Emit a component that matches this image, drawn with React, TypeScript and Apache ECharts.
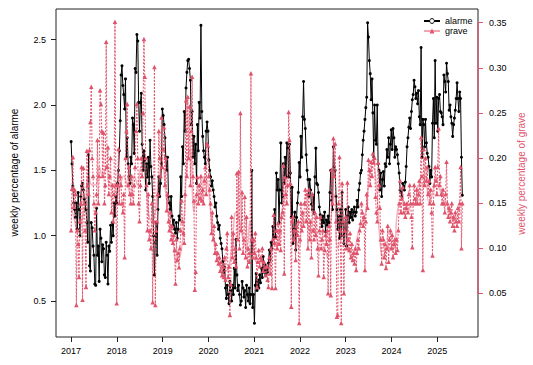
import React, { useEffect, useRef } from "react";
import * as echarts from "echarts";

const FONT = "'Liberation Sans', Arial, Helvetica, sans-serif";
const PINK = "#DF536B";
const LIGHT_PINK = "#F6B4C2";

const years = [2017, 2018, 2019, 2020, 2021, 2022, 2023, 2024, 2025];
const leftTicks = [0.5, 1.0, 1.5, 2.0, 2.5];
const rightTicks = [0.05, 0.1, 0.15, 0.2, 0.25, 0.3, 0.35];

// weekly percentage of alarme (left axis), one row per year starting Jan 2017
const alarme2017 = [1.72,1.55,1.38,1.25,1.20,1.14,1.25,1.05,1.33,1.20,1.00,1.30,1.38,1.40,1.35,1.28,1.25,1.20,1.10,0.95,1.62,0.77,0.73,1.10,1.06,0.92,0.85,0.63,0.62,1.21,0.85,0.92,0.65,1.05,0.98,0.80,0.93,0.90,0.70,0.68,0.95,0.85,0.63,0.92,0.88,1.08,0.95,1.10,1.00,1.25,1.15,1.30];
const alarme2018 = [1.25,1.40,1.50,1.65,1.88,2.23,2.30,2.15,2.08,1.97,2.20,1.60,1.75,1.55,1.45,1.40,1.60,1.55,1.90,1.85,1.63,2.28,2.25,2.54,2.49,2.02,1.80,2.02,2.09,1.70,1.50,1.65,1.58,1.35,1.55,1.45,1.60,1.40,1.73,1.53,1.45,1.30,1.00,0.70,0.95,1.10,0.85,1.20,1.45,1.30,1.40,1.55];
const alarme2019 = [1.97,1.92,1.85,1.75,1.60,1.50,1.60,1.30,1.25,1.20,1.30,1.15,1.08,1.12,1.05,1.02,1.10,0.98,1.05,1.15,1.12,1.45,1.30,1.68,1.55,1.95,1.80,2.13,2.25,2.34,2.35,2.28,2.19,1.85,1.95,1.60,1.76,1.55,1.70,1.40,1.85,1.65,2.02,1.90,2.61,1.95,1.76,1.65,1.60,1.55,1.80,1.87];
const alarme2020 = [1.80,1.58,1.50,1.45,1.38,1.42,1.35,1.30,1.22,1.25,1.15,1.10,1.05,1.08,0.98,0.94,0.90,0.80,0.72,0.76,0.60,0.52,0.62,0.55,0.48,0.65,0.58,0.50,0.62,0.55,0.75,0.60,0.97,0.70,0.58,0.62,0.55,0.47,0.50,0.65,0.60,0.53,0.58,0.45,0.62,0.55,0.50,0.60,0.48,0.55,1.50,0.45];
const alarme2021 = [0.55,0.33,0.62,0.71,0.58,0.66,0.60,0.70,0.64,0.75,0.68,0.84,0.72,0.78,0.70,0.74,0.72,0.79,0.89,0.82,0.95,0.90,1.07,0.99,1.20,0.99,1.48,1.35,1.43,1.10,1.35,1.71,1.25,1.30,1.55,1.40,1.60,1.45,1.71,1.67,1.45,1.70,1.48,1.14,1.37,0.94,1.05,1.18,0.89,1.14,1.25,1.33];
const alarme2022 = [1.56,1.45,1.76,1.60,1.91,2.18,1.89,1.82,1.62,1.50,1.43,1.30,1.43,1.35,1.24,1.20,1.31,1.17,1.45,1.67,1.40,1.39,1.33,1.22,1.16,1.13,1.07,1.15,1.10,1.18,1.03,1.12,1.08,1.15,1.10,1.33,1.50,1.27,1.20,1.68,1.53,1.50,1.30,1.20,1.05,1.15,0.98,1.20,1.00,1.33,1.10,0.94];
const alarme2023 = [1.05,1.20,0.92,1.15,1.22,1.10,1.18,1.14,1.20,1.12,1.18,1.22,1.15,1.18,1.27,1.22,1.35,1.40,1.48,1.50,1.62,1.73,1.80,1.89,1.98,2.06,2.63,2.52,2.34,2.24,2.04,2.20,1.94,1.60,2.00,1.73,1.70,2.00,1.55,1.50,1.35,1.48,1.30,1.43,1.49,1.38,1.55,1.53,1.66,1.60,1.75,1.55];
const alarme2024 = [1.70,1.81,1.66,1.82,1.75,1.60,1.68,1.66,1.62,1.55,1.48,1.35,1.33,1.30,1.40,1.38,1.35,1.41,1.53,1.68,1.75,1.83,1.90,1.82,1.95,2.04,2.08,2.19,2.14,2.05,2.09,2.01,2.11,1.91,1.85,2.44,1.60,1.89,1.85,1.68,1.89,1.71,1.63,1.60,1.53,1.40,1.50,1.45,1.86,2.05,1.75,2.34];
const alarme2025 = [1.86,2.06,1.80,2.05,2.08,1.95,1.94,1.91,1.85,2.23,2.18,2.10,2.32,2.24,2.18,1.96,2.00,1.91,1.86,1.76,1.85,1.90,1.96,2.05,2.17,2.05,1.95,2.10,2.05,1.60,1.31];

// weekly percentage of grave (right axis)
const grave2017 = [0.120,0.166,0.201,0.146,0.165,0.160,0.037,0.120,0.105,0.068,0.130,0.150,0.190,0.043,0.189,0.150,0.120,0.057,0.208,0.170,0.160,0.209,0.240,0.279,0.200,0.180,0.150,0.120,0.140,0.160,0.220,0.150,0.180,0.275,0.260,0.230,0.180,0.228,0.150,0.170,0.329,0.190,0.212,0.160,0.180,0.200,0.140,0.170,0.130,0.160,0.351,0.170];
const grave2018 = [0.039,0.170,0.210,0.150,0.180,0.170,0.150,0.140,0.160,0.090,0.200,0.230,0.260,0.170,0.190,0.160,0.150,0.180,0.160,0.150,0.170,0.190,0.230,0.260,0.200,0.150,0.130,0.170,0.200,0.180,0.250,0.332,0.290,0.200,0.170,0.120,0.160,0.110,0.120,0.100,0.150,0.040,0.130,0.301,0.037,0.120,0.130,0.160,0.230,0.200,0.180,0.245];
const grave2019 = [0.190,0.210,0.234,0.170,0.200,0.142,0.160,0.130,0.120,0.140,0.110,0.125,0.106,0.115,0.098,0.061,0.110,0.087,0.095,0.079,0.100,0.120,0.153,0.130,0.117,0.106,0.160,0.264,0.180,0.268,0.200,0.257,0.170,0.230,0.290,0.180,0.153,0.054,0.074,0.160,0.179,0.150,0.170,0.155,0.180,0.153,0.165,0.150,0.175,0.190,0.160,0.216];
const grave2020 = [0.214,0.180,0.165,0.150,0.117,0.140,0.110,0.125,0.095,0.105,0.087,0.095,0.083,0.090,0.075,0.085,0.070,0.080,0.068,0.090,0.065,0.100,0.117,0.068,0.080,0.026,0.060,0.135,0.090,0.117,0.085,0.100,0.080,0.183,0.110,0.185,0.100,0.250,0.120,0.162,0.095,0.110,0.157,0.090,0.135,0.080,0.100,0.085,0.095,0.294,0.110,0.090];
const grave2021 = [0.110,0.095,0.117,0.090,0.057,0.085,0.098,0.080,0.090,0.087,0.100,0.075,0.085,0.079,0.070,0.080,0.065,0.057,0.090,0.072,0.100,0.056,0.110,0.137,0.106,0.056,0.120,0.100,0.128,0.105,0.120,0.098,0.135,0.140,0.192,0.072,0.179,0.160,0.150,0.170,0.251,0.220,0.172,0.035,0.130,0.135,0.110,0.120,0.087,0.125,0.115,0.130];
const grave2022 = [0.017,0.110,0.150,0.120,0.140,0.125,0.150,0.165,0.130,0.160,0.100,0.165,0.110,0.130,0.090,0.160,0.120,0.110,0.140,0.115,0.135,0.100,0.070,0.120,0.135,0.100,0.110,0.120,0.068,0.098,0.115,0.105,0.120,0.050,0.125,0.110,0.048,0.187,0.150,0.222,0.180,0.216,0.130,0.024,0.026,0.150,0.201,0.120,0.017,0.172,0.130,0.050];
const grave2023 = [0.120,0.135,0.100,0.173,0.110,0.098,0.117,0.090,0.105,0.087,0.095,0.083,0.100,0.076,0.095,0.110,0.100,0.120,0.128,0.150,0.140,0.125,0.135,0.076,0.130,0.160,0.145,0.198,0.187,0.170,0.196,0.180,0.205,0.195,0.200,0.157,0.140,0.130,0.195,0.170,0.145,0.110,0.083,0.120,0.110,0.090,0.105,0.078,0.100,0.125,0.085,0.110];
const grave2024 = [0.120,0.100,0.115,0.090,0.105,0.110,0.095,0.110,0.098,0.120,0.150,0.175,0.140,0.155,0.168,0.140,0.150,0.135,0.145,0.150,0.140,0.160,0.170,0.150,0.135,0.101,0.150,0.170,0.155,0.150,0.165,0.150,0.160,0.175,0.150,0.223,0.180,0.076,0.210,0.170,0.200,0.175,0.190,0.160,0.175,0.150,0.165,0.140,0.092,0.150,0.170,0.190];
const grave2025 = [0.175,0.160,0.190,0.233,0.170,0.180,0.160,0.150,0.165,0.150,0.140,0.160,0.196,0.150,0.135,0.145,0.130,0.140,0.150,0.125,0.135,0.120,0.140,0.130,0.125,0.145,0.130,0.150,0.190,0.100,0.150];

// smoothed grave trend, one value every 4 weeks
const graveSmooth = [
  0.15,0.13,0.12,0.13,0.15,0.18,0.17,0.17,0.19,0.18,0.19,0.17,0.17,
  0.16,0.17,0.18,0.17,0.16,0.18,0.17,0.19,0.19,0.14,0.13,0.14,0.18,
  0.19,0.16,0.13,0.11,0.085,0.09,0.12,0.19,0.21,0.14,0.16,0.16,0.18,
  0.17,0.13,0.10,0.085,0.08,0.075,0.08,0.11,0.14,0.13,0.11,0.10,0.13,
  0.10,0.085,0.085,0.075,0.075,0.09,0.11,0.11,0.14,0.16,0.19,0.12,0.11,
  0.10,0.13,0.13,0.12,0.12,0.11,0.10,0.10,0.09,0.13,0.16,0.10,0.11,
  0.12,0.10,0.09,0.10,0.12,0.13,0.14,0.18,0.19,0.17,0.11,0.09,0.10,
  0.105,0.10,0.14,0.15,0.15,0.14,0.15,0.15,0.17,0.17,0.18,0.15,0.16,
  0.18,0.165,0.16,0.15,0.14,0.13,0.135,0.14,
];

const alarme = [...alarme2017, ...alarme2018, ...alarme2019, ...alarme2020, ...alarme2021, ...alarme2022, ...alarme2023, ...alarme2024, ...alarme2025];
const grave = [...grave2017, ...grave2018, ...grave2019, ...grave2020, ...grave2021, ...grave2022, ...grave2023, ...grave2024, ...grave2025];

const START_YEAR = 2017;
const WEEK = 7 / 365.25;
const X_MIN = 2016.67;
const X_MAX = 2025.89;
const YL_MIN = 0.2245;
const YL_MAX = 2.735;
const YR_MIN = 0.0016;
const YR_MAX = 0.3652;

export default function App() {
  const ref = useRef<HTMLDivElement>(null);

  useEffect(() => {
    if (!ref.current) return;
    const chart = echarts.init(ref.current, null, { renderer: "svg" });
    const option: any = {
      animation: false,
      backgroundColor: "#ffffff",
      textStyle: { fontFamily: FONT },
      grid: {
        left: 56,
        right: 55,
        top: 9,
        bottom: 28,
        show: true,
        borderColor: "#222",
        borderWidth: 1,
        backgroundColor: "transparent",
        containLabel: false,
        outerBoundsMode: "none",
      },
      legend: {
        orient: "vertical",
        left: 423,
        top: 16,
        itemWidth: 16,
        itemHeight: 6,
        itemGap: 0,
        padding: 0,
        selectedMode: false,
        textStyle: { fontSize: 9, lineHeight: 10, color: "#000", fontFamily: FONT },
        data: [
          { name: "alarme", itemStyle: { color: "#fff", borderColor: "#000", borderWidth: 1 } },
          { name: "grave", lineStyle: { type: "solid", color: "#F4A3B4" } },
        ],
      },
      xAxis: {
        type: "value",
        min: X_MIN,
        max: X_MAX,
        axisLine: { show: false },
        splitLine: { show: false },
        axisTick: { show: true, customValues: years, length: 5, lineStyle: { color: "#222" } },
        axisLabel: {
          customValues: years,
          margin: 9,
          fontSize: 9,
          color: "#000",
          fontFamily: FONT,
          formatter: (v: number) => String(Math.round(v)),
        },
      },
      yAxis: [
        {
          type: "value",
          min: YL_MIN,
          max: YL_MAX,
          position: "left",
          axisLine: { show: false },
          splitLine: { show: false },
          axisTick: { show: true, customValues: leftTicks, length: 5, lineStyle: { color: "#222" } },
          axisLabel: {
            customValues: leftTicks,
            margin: 10,
            fontSize: 9,
            color: "#000",
            fontFamily: FONT,
            formatter: (v: number) => v.toFixed(1),
          },
        },
        {
          type: "value",
          min: YR_MIN,
          max: YR_MAX,
          position: "right",
          alignTicks: false,
          axisLine: { show: false },
          splitLine: { show: false },
          axisTick: { show: true, customValues: rightTicks, length: 5, lineStyle: { color: PINK } },
          axisLabel: {
            customValues: rightTicks,
            margin: 11,
            fontSize: 9,
            color: "#000",
            fontFamily: FONT,
            formatter: (v: number) => v.toFixed(2),
          },
        },
      ],
      series: [
        {
          name: "smooth",
          type: "line",
          yAxisIndex: 1,
          data: graveSmooth.map((v, i) => [START_YEAR + i * 4 * WEEK, v]),
          smooth: 0.5,
          symbol: "none",
          silent: true,
          lineStyle: { color: LIGHT_PINK, width: 1.5 },
          z: 1,
        },
        {
          name: "alarme",
          type: "line",
          yAxisIndex: 0,
          data: alarme.map((v, i) => [START_YEAR + i * WEEK, v]),
          symbol: "circle",
          symbolSize: 3,
          showSymbol: true,
          showAllSymbol: true,
          silent: true,
          lineStyle: { color: "#000", width: 1 },
          itemStyle: { color: "#000" },
          z: 2,
        },
        {
          name: "grave",
          type: "line",
          yAxisIndex: 1,
          data: grave.map((v, i) => [START_YEAR + i * WEEK, v]),
          symbol: "triangle",
          symbolSize: 4.5,
          showSymbol: true,
          showAllSymbol: true,
          silent: true,
          lineStyle: { color: PINK, width: 1, type: [2, 1.5] },
          itemStyle: { color: PINK },
          z: 3,
        },
      ],
    };
    chart.setOption(option);

    const xr = chart.convertToPixel({ xAxisIndex: 0 }, X_MAX) as number;
    const y05 = chart.convertToPixel({ yAxisIndex: 1 }, rightTicks[0]) as number;
    const y35 = chart.convertToPixel({ yAxisIndex: 1 }, rightTicks[rightTicks.length - 1]) as number;

    chart.setOption({
      graphic: [
        {
          type: "line",
          id: "rightAxisLine",
          shape: { x1: xr, y1: y05, x2: xr, y2: y35 },
          style: { stroke: PINK, lineWidth: 1.2 },
          z: 100,
        },
        {
          type: "text",
          id: "leftTitle",
          x: 14,
          y: 172.5,
          rotation: Math.PI / 2,
          style: {
            text: "weekly percentage of alarme",
            fontSize: 10,
            fontFamily: FONT,
            fill: "#000",
            align: "center",
            verticalAlign: "middle",
          },
        },
        {
          type: "text",
          id: "rightTitle",
          x: 521,
          y: 173.5,
          rotation: Math.PI / 2,
          style: {
            text: "weekly percentage of grave",
            fontSize: 10,
            fontFamily: FONT,
            fill: PINK,
            align: "center",
            verticalAlign: "middle",
          },
        },
      ],
    });

    return () => chart.dispose();
  }, []);

  return (
    <div
      ref={ref}
      style={{ position: "fixed", left: 0, top: 0, width: 533, height: 365, background: "#fff" }}
    />
  );
}
